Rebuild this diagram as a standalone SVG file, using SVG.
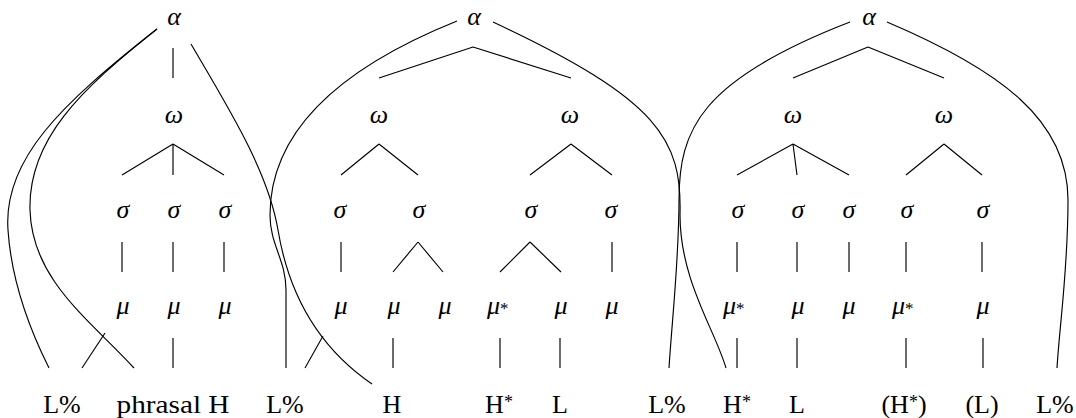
<svg xmlns="http://www.w3.org/2000/svg" width="1076" height="418" viewBox="0 0 1076 418">
<style>
.g{font-style:italic;font-size:26px;text-anchor:middle;fill:#000}
.gs{font-style:italic;font-size:26px;text-anchor:start;fill:#000}
.t{font-size:26px;text-anchor:middle;fill:#000}
.st{font-size:17px;font-style:normal}
.c path{fill:none;stroke:#000;stroke-width:1.15}
</style>
<rect width="1076" height="418" fill="#fff"/>
<g id="connectors" class="c">
<path d="M173,48 V78"/>
<path d="M173,144 L122,175 M173,144 L173,175 M173,144 L224,175"/>
<path d="M122,242 V272 M173,242 V272 M224,242 V272"/>
<path d="M173,338 V368"/>
<path d="M157,29 C60,105 3,160 8,230 C12,290 35,340 49,368"/>
<path d="M157,29 C80,90 28,140 30,210 C32,280 90,320 134,368"/>
<path d="M82,368 L105,333"/>
<path d="M191,44 C226,104 268,170 278,230 C288,290 315,345 372,384"/>
<path d="M457,21 C360,60 270,120 270,215 C270,245 286,260 286,290 L286,368"/>
<path d="M493,22 C660,100 682,140 680,215 C680,280 715,330 726,368"/>
<path d="M473,47 L379,78 M473,47 L571,78"/>
<path d="M379,144 L341,175 M379,144 L418,175"/>
<path d="M571,144 L530,175 M571,144 L612,175"/>
<path d="M341,242 V272 M418,242 L393,272 M418,242 L443,272 M530,242 L500,272 M530,242 L561,272 M612,242 V272"/>
<path d="M393,338 V368 M500,338 V368 M560,338 V368"/>
<path d="M305,368 L323,336"/>
<path d="M850,22 C700,80 679,130 679,200 C679,260 672,320 669,368"/>
<path d="M887,22 C1000,70 1068,120 1068,200 C1068,270 1060,320 1057,368"/>
<path d="M868,47 L793,78 M868,47 L944,78"/>
<path d="M793,144 L737,175 M793,144 L797,175 M793,144 L849,175"/>
<path d="M944,144 L906,175 M944,144 L982,175"/>
<path d="M737,242 V272 M797,242 V272 M849,242 V272 M906,242 V272 M982,242 V272"/>
<path d="M737,338 V368 M797,338 V368 M906,338 V368 M983,338 V368"/>
</g>
<g font-family="'Liberation Serif', 'Times New Roman', Tinos, 'DejaVu Serif', serif">
<g id="alpha1"><text class="g" x="174" y="25">α</text></g>
<g id="omega1"><text class="g" x="174" y="123">ω</text></g>
<g id="sigma1a"><text class="g" x="123" y="218">σ</text></g>
<g id="sigma1b"><text class="g" x="174" y="218">σ</text></g>
<g id="sigma1c"><text class="g" x="225" y="218">σ</text></g>
<g id="mu1a"><text class="g" x="123" y="314">μ</text></g>
<g id="mu1b"><text class="g" x="174" y="314">μ</text></g>
<g id="mu1c"><text class="g" x="225" y="314">μ</text></g>
<g id="tone1a"><text class="t" x="62" y="413">L%</text></g>
<g id="tone1b"><text class="t" x="173" y="413" textLength="113" lengthAdjust="spacingAndGlyphs">phrasal H</text></g>
<g id="alpha2"><text class="g" x="474" y="25">α</text></g>
<g id="omega2a"><text class="g" x="379" y="123">ω</text></g>
<g id="omega2b"><text class="g" x="570" y="123">ω</text></g>
<g id="sigma2a"><text class="g" x="340" y="218">σ</text></g>
<g id="sigma2b"><text class="g" x="419" y="218">σ</text></g>
<g id="sigma2c"><text class="g" x="531" y="218">σ</text></g>
<g id="sigma2d"><text class="g" x="611" y="218">σ</text></g>
<g id="mu2a"><text class="g" x="341" y="314">μ</text></g>
<g id="mu2b"><text class="g" x="394" y="314">μ</text></g>
<g id="mu2c"><text class="g" x="445" y="314">μ</text></g>
<g id="mu2d"><text class="gs" x="487" y="314">μ<tspan class="st">*</tspan></text></g>
<g id="mu2e"><text class="g" x="561" y="314">μ</text></g>
<g id="mu2f"><text class="g" x="612" y="314">μ</text></g>
<g id="tone2a"><text class="t" x="285" y="413">L%</text></g>
<g id="tone2b"><text class="t" x="392" y="413">H</text></g>
<g id="tone2c"><text class="t" x="499" y="413">H<tspan font-size="18" dy="-5">*</tspan></text></g>
<g id="tone2d"><text class="t" x="560" y="413">L</text></g>
<g id="tone2e"><text class="t" x="667" y="413">L%</text></g>
<g id="alpha3"><text class="g" x="869" y="25">α</text></g>
<g id="omega3a"><text class="g" x="793" y="123">ω</text></g>
<g id="omega3b"><text class="g" x="944" y="123">ω</text></g>
<g id="sigma3a"><text class="g" x="738" y="218">σ</text></g>
<g id="sigma3b"><text class="g" x="798" y="218">σ</text></g>
<g id="sigma3c"><text class="g" x="849" y="218">σ</text></g>
<g id="sigma3d"><text class="g" x="907" y="218">σ</text></g>
<g id="sigma3e"><text class="g" x="983" y="218">σ</text></g>
<g id="mu3a"><text class="gs" x="723" y="314">μ<tspan class="st">*</tspan></text></g>
<g id="mu3b"><text class="g" x="798" y="314">μ</text></g>
<g id="mu3c"><text class="g" x="849" y="314">μ</text></g>
<g id="mu3d"><text class="gs" x="892" y="314">μ<tspan class="st">*</tspan></text></g>
<g id="mu3e"><text class="g" x="983" y="314">μ</text></g>
<g id="tone3a"><text class="t" x="737" y="413">H<tspan font-size="18" dy="-5">*</tspan></text></g>
<g id="tone3b"><text class="t" x="797" y="413">L</text></g>
<g id="tone3c"><text class="t" x="904" y="413">(H<tspan font-size="18" dy="-5">*</tspan><tspan dy="5">)</tspan></text></g>
<g id="tone3d"><text class="t" x="982" y="413">(L)</text></g>
<g id="tone3e"><text class="t" x="1055" y="413">L%</text></g>
</g>
</svg>
